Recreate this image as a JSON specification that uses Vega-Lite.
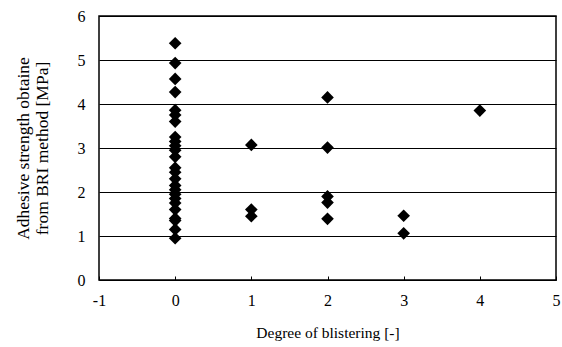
{
  "$schema": "https://vega.github.io/schema/vega-lite/v6.json",
  "width": 457,
  "height": 264,
  "autosize": "none",
  "padding": {"left": 99, "top": 16, "right": 6, "bottom": 67},
  "background": "white",
  "config": {
    "view": {"stroke": "black", "strokeWidth": 1.5},
    "font": "Liberation Serif"
  },
  "data": {
    "values": [
      {"degree": 0, "strength": 5.38},
      {"degree": 0, "strength": 4.93},
      {"degree": 0, "strength": 4.57},
      {"degree": 0, "strength": 4.27},
      {"degree": 0, "strength": 3.86},
      {"degree": 0, "strength": 3.75},
      {"degree": 0, "strength": 3.6},
      {"degree": 0, "strength": 3.25},
      {"degree": 0, "strength": 3.15},
      {"degree": 0, "strength": 3.05},
      {"degree": 0, "strength": 2.95},
      {"degree": 0, "strength": 2.8},
      {"degree": 0, "strength": 2.55},
      {"degree": 0, "strength": 2.45},
      {"degree": 0, "strength": 2.3},
      {"degree": 0, "strength": 2.15},
      {"degree": 0, "strength": 2.05},
      {"degree": 0, "strength": 1.95},
      {"degree": 0, "strength": 1.85},
      {"degree": 0, "strength": 1.75},
      {"degree": 0, "strength": 1.6},
      {"degree": 0, "strength": 1.4},
      {"degree": 0, "strength": 1.35},
      {"degree": 0, "strength": 1.15},
      {"degree": 0, "strength": 0.95},
      {"degree": 1, "strength": 3.07},
      {"degree": 1, "strength": 1.6},
      {"degree": 1, "strength": 1.45},
      {"degree": 2, "strength": 4.15},
      {"degree": 2, "strength": 3.01},
      {"degree": 2, "strength": 1.9},
      {"degree": 2, "strength": 1.76},
      {"degree": 2, "strength": 1.39},
      {"degree": 3, "strength": 1.46},
      {"degree": 3, "strength": 1.06},
      {"degree": 4, "strength": 3.85}
    ]
  },
  "mark": {"type": "point", "shape": "diamond", "filled": true, "color": "black", "opacity": 1, "size": 160},
  "encoding": {
    "x": {
      "field": "degree",
      "type": "quantitative",
      "scale": {"domain": [-1, 5], "nice": false, "zero": false},
      "axis": {
        "values": [-1, 0, 1, 2, 3, 4, 5],
        "labelExpr": "'' + datum.value",
        "title": "Degree of blistering [-]",
        "titleFont": "Liberation Serif",
        "titleFontSize": 15.5,
        "titleFontWeight": "normal",
        "titleColor": "black",
        "titlePadding": 17,
        "labelFont": "Liberation Serif",
        "labelFontSize": 16,
        "labelColor": "black",
        "labelPadding": 16,
        "labelFlush": false,
        "domain": false,
        "grid": false,
        "ticks": true,
        "tickSize": -4,
        "tickColor": "black"
      }
    },
    "y": {
      "field": "strength",
      "type": "quantitative",
      "scale": {"domain": [0, 6], "nice": false},
      "axis": {
        "values": [0, 1, 2, 3, 4, 5, 6],
        "title": ["Adhesive strength obtaine", "from BRI method [MPa]"],
        "titleFont": "Liberation Serif",
        "titleFontSize": 17.5,
        "titleFontWeight": "normal",
        "titleColor": "black",
        "titlePadding": 26,
        "titleLineHeight": 19,
        "labelFont": "Liberation Serif",
        "labelFontSize": 16,
        "labelColor": "black",
        "labelPadding": 14,
        "domain": false,
        "ticks": false,
        "grid": true,
        "gridColor": "black",
        "gridOpacity": 1,
        "gridWidth": 1
      }
    }
  }
}
